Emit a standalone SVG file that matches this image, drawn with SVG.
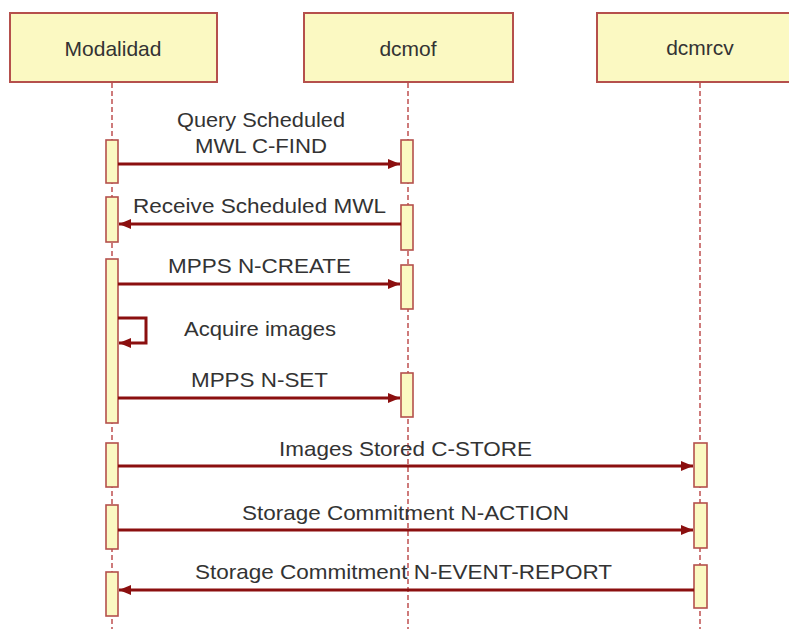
<svg xmlns="http://www.w3.org/2000/svg" width="789" height="629" viewBox="0 0 789 629">
  <defs>
    <style>
      .head { fill: #fbf9c2; stroke: #b5504c; stroke-width: 2; }
      .act { fill: #fbf9c2; stroke: #b5504c; stroke-width: 1.6; }
      .life { stroke: #c25a5a; stroke-width: 1.6; stroke-dasharray: 5 3; fill: none; }
      .msg { stroke: #8b0f0f; stroke-width: 3; fill: none; }
      .lbl { font-family: "Liberation Sans", Arial, sans-serif; font-size: 21px; fill: #333333; text-anchor: middle; }
    </style>
    <marker id="arrow" markerUnits="userSpaceOnUse" markerWidth="13" markerHeight="11" refX="12" refY="5" orient="auto">
      <path d="M0,0 L12,5 L0,10 Z" fill="#8b0f0f"/>
    </marker>
  </defs>

  <rect width="789" height="629" fill="#ffffff"/>

  <!-- lifelines -->
  <g id="lifelines">
    <line class="life" x1="112" y1="83" x2="112" y2="629"/>
    <line class="life" x1="408" y1="83" x2="408" y2="629"/>
    <line class="life" x1="700" y1="83" x2="700" y2="629"/>
  </g>

  <!-- participants -->
  <g id="modalidad">
    <rect class="head" x="10" y="13" width="207" height="69"/>
    <text class="lbl" x="113" y="56">Modalidad</text>
    <rect class="act" x="106" y="140" width="12" height="43"/>
    <rect class="act" x="106" y="197" width="12" height="45"/>
    <rect class="act" x="106" y="259" width="12" height="164"/>
    <rect class="act" x="106" y="443" width="12" height="44"/>
    <rect class="act" x="106" y="505" width="12" height="44"/>
    <rect class="act" x="106" y="572" width="12" height="44"/>
  </g>

  <g id="dcmof">
    <rect class="head" x="304" y="13" width="209" height="69"/>
    <text class="lbl" x="408" y="56">dcmof</text>
    <rect class="act" x="401" y="140" width="12" height="43"/>
    <rect class="act" x="401" y="205" width="12" height="45"/>
    <rect class="act" x="401" y="265" width="12" height="44"/>
    <rect class="act" x="401" y="373" width="12" height="44"/>
  </g>

  <g id="dcmrcv">
    <rect class="head" x="597" y="13" width="196" height="69"/>
    <text class="lbl" x="700" y="55">dcmrcv</text>
    <rect class="act" x="694" y="443" width="13" height="44"/>
    <rect class="act" x="694" y="503" width="13" height="45"/>
    <rect class="act" x="694" y="565" width="13" height="43"/>
  </g>

  <!-- messages -->
  <g id="connectors">
    <line class="msg" x1="118" y1="164" x2="400" y2="164" marker-end="url(#arrow)"/>
    <line class="msg" x1="401" y1="224" x2="119" y2="224" marker-end="url(#arrow)"/>
    <line class="msg" x1="118" y1="284" x2="400" y2="284" marker-end="url(#arrow)"/>
    <path class="msg" d="M118,318 H146 V343 H119" marker-end="url(#arrow)"/>
    <line class="msg" x1="118" y1="398" x2="400" y2="398" marker-end="url(#arrow)"/>
    <line class="msg" x1="118" y1="466" x2="693" y2="466" marker-end="url(#arrow)"/>
    <line class="msg" x1="118" y1="530" x2="693" y2="530" marker-end="url(#arrow)"/>
    <line class="msg" x1="694" y1="590" x2="119" y2="590" marker-end="url(#arrow)"/>
  </g>

  <!-- message labels -->
  <g id="labels">
    <text class="lbl" x="261" y="127" textLength="168" lengthAdjust="spacingAndGlyphs">Query Scheduled</text>
    <text class="lbl" x="261" y="153" textLength="132" lengthAdjust="spacingAndGlyphs">MWL C-FIND</text>
    <text class="lbl" x="259.5" y="213" textLength="253" lengthAdjust="spacingAndGlyphs">Receive Scheduled MWL</text>
    <text class="lbl" x="259.5" y="273" textLength="183" lengthAdjust="spacingAndGlyphs">MPPS N-CREATE</text>
    <text class="lbl" x="260" y="336" textLength="152" lengthAdjust="spacingAndGlyphs">Acquire images</text>
    <text class="lbl" x="259.5" y="387" textLength="137" lengthAdjust="spacingAndGlyphs">MPPS N-SET</text>
    <text class="lbl" x="405.5" y="456" textLength="253" lengthAdjust="spacingAndGlyphs">Images Stored C-STORE</text>
    <text class="lbl" x="405.5" y="520" textLength="327" lengthAdjust="spacingAndGlyphs">Storage Commitment N-ACTION</text>
    <text class="lbl" x="403.5" y="579" textLength="417" lengthAdjust="spacingAndGlyphs">Storage Commitment N-EVENT-REPORT</text>
  </g>
</svg>
